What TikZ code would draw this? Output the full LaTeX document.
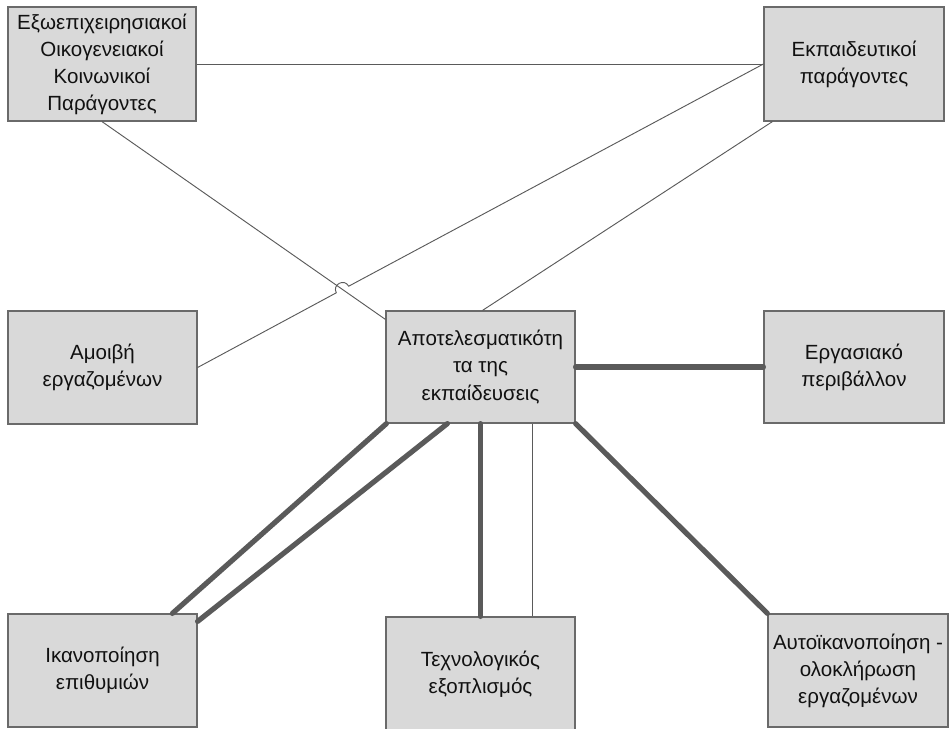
\documentclass[tikz,border=0pt]{standalone}
\usepackage{fontspec}
\setmainfont{Liberation Sans}
\definecolor{boxfill}{HTML}{D9D9D9}
\definecolor{boxline}{HTML}{6A6A6A}
\definecolor{linkgray}{HTML}{5A5A5A}
\definecolor{textcol}{HTML}{111111}

\begin{document}
\begin{tikzpicture}[x=0.75pt,y=-0.75pt,
  factor/.style={draw=boxline,line width=0.9pt,fill=boxfill,inner sep=0pt,
    align=center,text=textcol,font=\fontsize{15.4}{20.3}\selectfont,
    minimum width=141.75pt,minimum height=84.75pt},
  narrow/.style={minimum width=135pt},
  thinlink/.style={draw=linkgray,line width=0.7pt},
  thicklink/.style={draw=linkgray,line width=3.9pt,line cap=round}]

\useasboundingbox (0,0) rectangle (952,728);
\clip (0,0) rectangle (952,728);

% factor boxes
\node[factor,minimum height=85.5pt,minimum width=141pt] (ext) at (102,64)
  {Εξωεπιχειρησιακοί\\Οικογενειακοί\\Κοινωνικοί\\Παράγοντες};
\node[factor,narrow,minimum height=85.5pt] (edu) at (854,64)
  {Εκπαιδευτικοί\\παράγοντες};
\node[factor,minimum height=84pt] (eff) at (480.5,367)
  {Αποτελεσματικότη\\τα της\\εκπαίδευσεις};
\node[factor] (pay) at (102.5,367.5) {Αμοιβή\\εργαζομένων};
\node[factor,narrow,minimum height=84pt] (env) at (854,367)
  {Εργασιακό\\περιβάλλον};
\node[factor] (wish) at (102.5,670.5) {Ικανοποίηση\\επιθυμιών};
\node[factor,minimum height=85.5pt] (tech) at (480.5,674)
  {Τεχνολογικός\\εξοπλισμός};
\node[factor,minimum width=135pt] (self) at (858,670.5)
  {Αυτοϊκανοποίηση -\\ολοκλήρωση\\εργαζομένων};

% thin links between the upper factors
\draw[thinlink] (ext.east) -- (edu.west);
\draw[thinlink] (ext.south) -- ([yshift=-6.75pt]eff.north west);
\draw[thinlink] ([xshift=6.75pt]edu.south west) -- ([xshift=1.5pt]eff.north);

% line from education factors to pay, hopping over the crossing line
\coordinate (hopA) at (336.3,292.8);
\coordinate (hopB) at (348.7,286.2);
\draw[thinlink] (pay.east) -- (hopA)
  .. controls (331.9,284.6) and (344.3,278.0) .. (hopB) -- (edu.west);

% heavy links from effectiveness
\draw[thicklink] (eff.east) -- (env.west);
\draw[thicklink] ([xshift=0.75pt]eff.south west) -- ([xshift=123.75pt]wish.north west);
\draw[thicklink] ([xshift=46.5pt]eff.south west) -- ([yshift=-6pt]wish.north east);
\draw[thicklink] (eff.south) -- (tech.north);
\draw[thinlink] ([xshift=110.25pt]eff.south west) -- ([xshift=110.25pt]tech.north west);
\draw[thicklink] (eff.south east) -- (self.north west);
\end{tikzpicture}
\end{document}
